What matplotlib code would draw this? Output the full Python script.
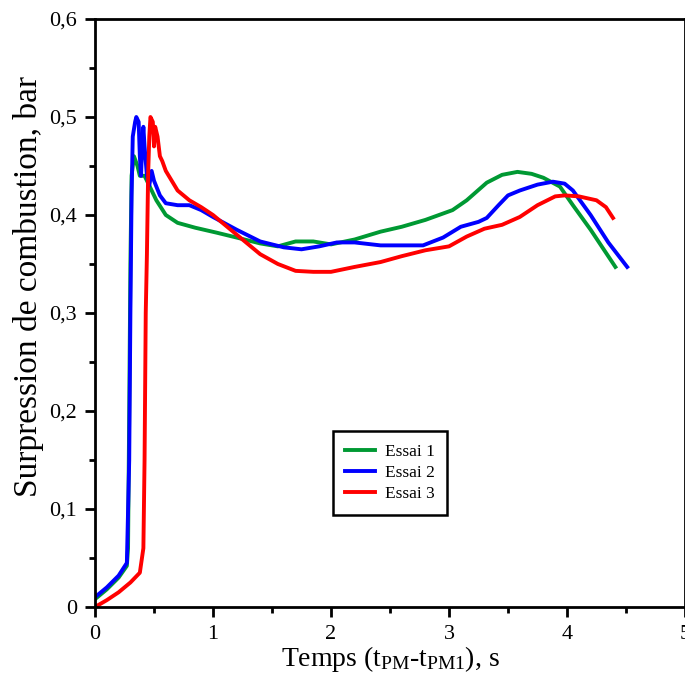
import matplotlib
matplotlib.use("Agg")
import matplotlib.pyplot as plt
from matplotlib.ticker import MultipleLocator, FuncFormatter

# ---- data ----
x1 = [0.0, 0.1, 0.2, 0.27, 0.28, 0.29, 0.30, 0.31, 0.33, 0.36, 0.38, 0.42, 0.46, 0.52, 0.6, 0.7,
      0.85, 1.03, 1.2, 1.4, 1.55, 1.7, 1.85, 2.0, 2.2, 2.42, 2.6, 2.8, 3.03, 3.15, 3.32, 3.45,
      3.58, 3.7, 3.8, 3.94, 4.05, 4.2, 4.41]
y1 = [0.008, 0.018, 0.03, 0.042, 0.06, 0.2, 0.35, 0.44, 0.46, 0.45, 0.44, 0.44, 0.43, 0.415,
      0.40, 0.392, 0.387, 0.382, 0.377, 0.371, 0.368, 0.373, 0.373, 0.37, 0.375, 0.383, 0.388,
      0.395, 0.405, 0.415, 0.433, 0.441, 0.444, 0.442, 0.438, 0.429, 0.41, 0.385, 0.347]

x2 = [0.0, 0.1, 0.2, 0.27, 0.29, 0.30, 0.31, 0.32, 0.34, 0.35, 0.37, 0.38, 0.39, 0.40, 0.41,
      0.42, 0.44, 0.46, 0.48, 0.5, 0.55, 0.6, 0.7, 0.8, 0.9, 1.0, 1.2, 1.4, 1.6, 1.75, 1.9,
      2.05, 2.2, 2.42, 2.6, 2.78, 2.95, 3.1, 3.25, 3.32, 3.42, 3.5, 3.6, 3.75, 3.88, 3.98,
      4.05, 4.2, 4.35, 4.51]
y2 = [0.01, 0.02, 0.032, 0.045, 0.15, 0.3, 0.42, 0.48, 0.495, 0.50, 0.495, 0.46, 0.44, 0.47,
      0.49, 0.47, 0.44, 0.43, 0.445, 0.435, 0.42, 0.412, 0.41, 0.41, 0.405, 0.398, 0.385,
      0.373, 0.367, 0.365, 0.368, 0.372, 0.372, 0.369, 0.369, 0.369, 0.377, 0.388, 0.393,
      0.397, 0.41, 0.42, 0.425, 0.431, 0.434, 0.432, 0.425, 0.40, 0.372, 0.347]

x3 = [0.0, 0.1, 0.2, 0.3, 0.38, 0.41, 0.42, 0.43, 0.44, 0.45, 0.46, 0.47, 0.49, 0.50, 0.51,
      0.53, 0.55, 0.57, 0.6, 0.65, 0.7, 0.8, 0.9, 1.0, 1.1, 1.25, 1.4, 1.55, 1.7, 1.85, 2.0,
      2.2, 2.42, 2.6, 2.8, 3.0, 3.15, 3.3, 3.45, 3.6, 3.75, 3.9, 3.98, 4.1, 4.25, 4.33, 4.39]
y3 = [0.0, 0.007, 0.015, 0.025, 0.035, 0.06, 0.15, 0.3, 0.36, 0.44, 0.48, 0.50, 0.495, 0.47,
      0.49, 0.48, 0.46, 0.455, 0.445, 0.435, 0.425, 0.415, 0.408, 0.40, 0.39, 0.375, 0.36,
      0.35, 0.343, 0.342, 0.342, 0.347, 0.352, 0.358, 0.364, 0.368, 0.378, 0.386, 0.39,
      0.398, 0.41, 0.419, 0.42, 0.419, 0.415, 0.408, 0.397]

labels = ["Essai 1", "Essai 2", "Essai 3"]
colors = ["#009933", "#0000ff", "#ff0000"]

plt.rcParams['font.family'] = ['Liberation Serif', 'DejaVu Serif']
plt.rcParams['mathtext.fontset'] = 'custom'
plt.rcParams['mathtext.rm'] = 'Liberation Serif'
plt.rcParams['mathtext.it'] = 'Liberation Serif:italic'

fig = plt.figure(figsize=(6.85, 6.82), dpi=100)
ax = fig.add_axes([95/685, 75/682, 590/685, 588/682])

for xs, ys, lab, c in zip([x1, x2, x3], [y1, y2, y3], labels, colors):
    ax.plot(xs, ys, color=c, lw=2.8, label=lab)

ax.set_xlim(0, 5)
ax.set_ylim(0, 0.6)
ax.xaxis.set_major_locator(MultipleLocator(1))
ax.xaxis.set_minor_locator(MultipleLocator(0.5))
ax.yaxis.set_major_locator(MultipleLocator(0.1))
ax.yaxis.set_minor_locator(MultipleLocator(0.05))
ax.yaxis.set_major_formatter(FuncFormatter(lambda v, p: ("%g" % round(v, 2)).replace('.', ',')))
ax.xaxis.set_major_formatter(FuncFormatter(lambda v, p: "%g" % v))

ax.tick_params(which='major', direction='out', length=7, width=2, labelsize=16, pad=6)
ax.tick_params(which='minor', direction='out', length=4, width=2)
for s in ax.spines.values():
    s.set_linewidth(2)

ax.set_xlabel(r"Temps (t$_{\mathrm{PM}}$-t$_{\mathrm{PM1}}$), s", fontsize=20, labelpad=0)
ax.set_ylabel("Surpression de combustion, bar", fontsize=24, labelpad=4)
ax.yaxis.label.set_y(0.545)

leg = ax.legend(loc='center', bbox_to_anchor=(0.50, 0.228), fontsize=12.5, fancybox=False,
                framealpha=1, edgecolor='black', handlelength=1.7, handletextpad=0.6,
                borderpad=0.7, labelspacing=0.3)
leg.get_frame().set_linewidth(1.8)

fig.savefig("out.png", dpi=100)
